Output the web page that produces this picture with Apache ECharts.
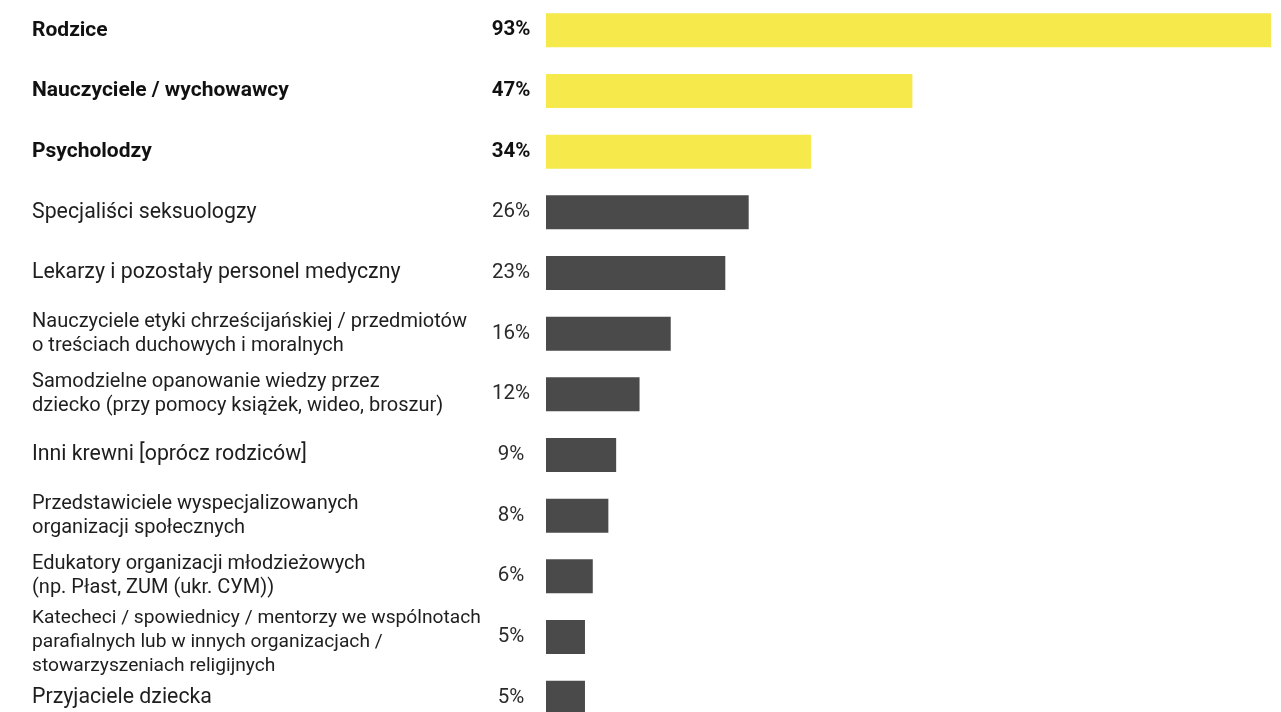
<!DOCTYPE html>
<html><head><meta charset="utf-8">
<script src="https://cdn.jsdelivr.net/npm/echarts@6/dist/echarts.min.js"></script>
<style>html,body{margin:0;padding:0;background:#fff}#c{width:1281px;height:712px}</style>
</head><body><div id="c"></div>
<script>
const categories = [
  "Rodzice",
  "Nauczyciele / wychowawcy",
  "Psycholodzy",
  "Specjaliści seksuologzy",
  "Lekarzy i pozostały personel medyczny",
  "Nauczyciele etyki chrześcijańskiej / przedmiotów\no treściach duchowych i moralnych",
  "Samodzielne opanowanie wiedzy przez\ndziecko (przy pomocy książek, wideo, broszur)",
  "Inni krewni [oprócz rodziców]",
  "Przedstawiciele wyspecjalizowanych\norganizacji społecznych",
  "Edukatory organizacji młodzieżowych\n(np. Płast, ZUM (ukr. СУМ))",
  "Katecheci / spowiednicy / mentorzy we wspólnotach\nparafialnych lub w innych organizacjach /\nstowarzyszeniach religijnych",
  "Przyjaciele dziecka"
];
const values = [93, 47, 34, 26, 23, 16, 12, 9, 8, 6, 5, 5];
const highlighted = [true, true, true, false, false, false, false, false, false, false, false, false];

const chart = echarts.init(document.getElementById('c'), null, {renderer: 'canvas'});
const FONT = 'Roboto';
chart.setOption({
  animation: false,
  backgroundColor: '#ffffff',
  grid: {left: 546, right: 10, top: 0, height: 728, containLabel: false, outerBoundsMode: 'none'},
  xAxis: {type: 'value', min: 0, max: 93, show: false},
  yAxis: {
    type: 'category', inverse: true, data: categories,
    axisLine: {show: false}, axisTick: {show: false}, splitLine: {show: false},
    axisLabel: {
      align: 'left', margin: 514, fontFamily: FONT,
      formatter: function (v, i) {
        if (highlighted[i]) return '{b|' + v + '}';
        const lines = v.split('\n');
        if (lines.length > 2) return '{e| }\n{s|' + lines.join('}\n{s|') + '}';
        if (lines.length === 2) return '{m|' + lines.join('}\n{m|') + '}';
        return '{r|' + v + '}';
      },
      rich: {
        b: {fontFamily: FONT, fontSize: 21, fontWeight: 'bold', color: '#111'},
        r: {fontFamily: FONT, fontSize: 21.3, color: '#1e1e1e'},
        m: {fontFamily: FONT, fontSize: 20, color: '#1e1e1e', lineHeight: 24},
        e: {fontFamily: FONT, fontSize: 1, lineHeight: 10},
        s: {fontFamily: FONT, fontSize: 19.2, color: '#1e1e1e', lineHeight: 24}
      }
    }
  },
  series: [{
    type: 'bar', barWidth: 34,
    data: values.map((v, i) => ({value: v, itemStyle: {color: highlighted[i] ? '#f5e94c' : '#4a4a4a'},
      label: {fontWeight: highlighted[i] ? 'bold' : 'normal', color: highlighted[i] ? '#111' : '#2a2a2a'}})),
    label: {
      show: true, position: [-35, 17], align: 'center', verticalAlign: 'middle',
      fontFamily: FONT, fontSize: 20.5,
      formatter: p => p.value + '%'
    }
  }]
});
</script></body></html>
